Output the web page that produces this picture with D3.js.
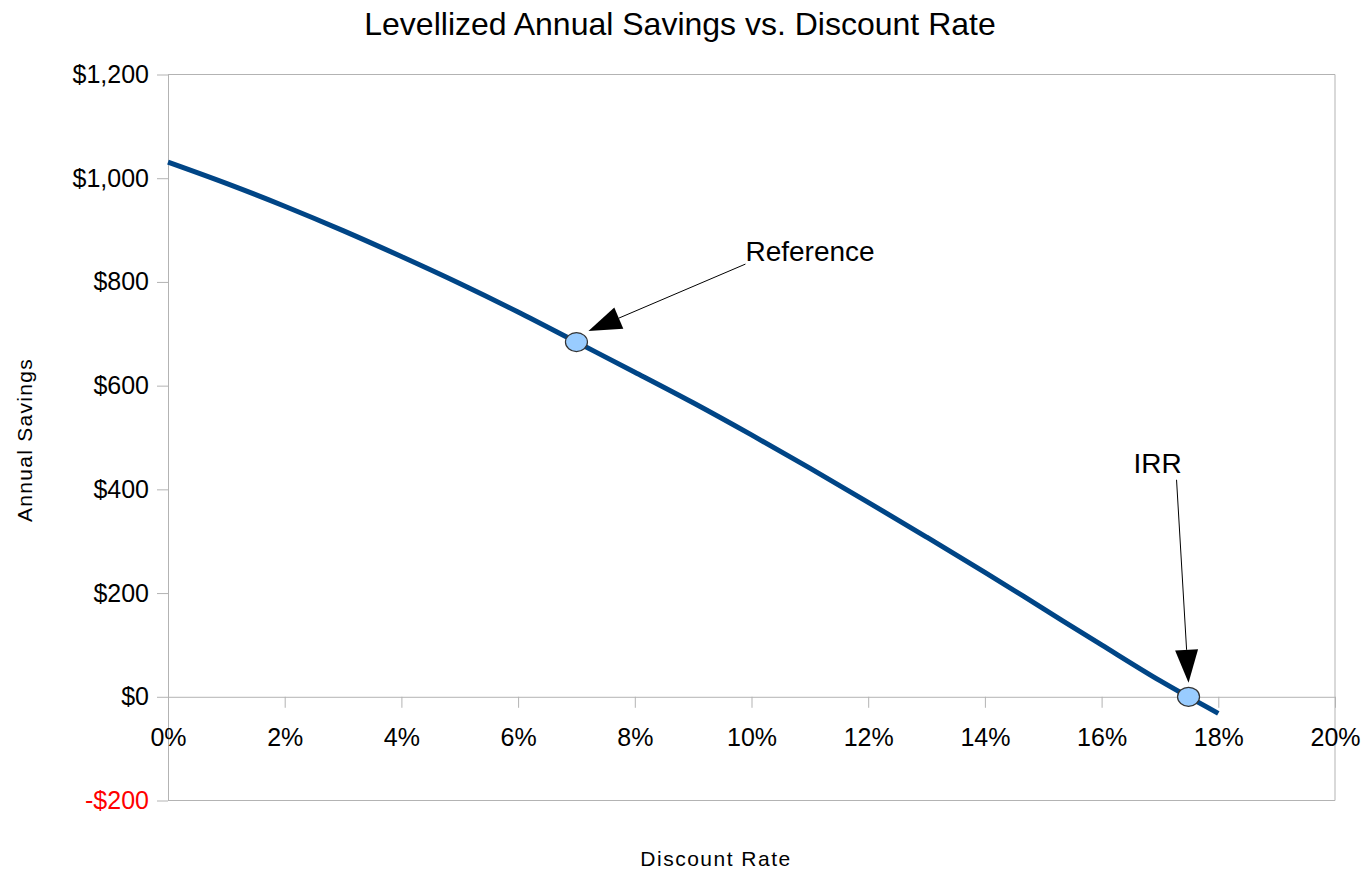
<!DOCTYPE html>
<html>
<head>
<meta charset="utf-8">
<script src="https://cdn.jsdelivr.net/npm/d3@7"></script>
<style>
  html, body { margin: 0; padding: 0; background: #fff; }
  svg { display: block; font-family: "Liberation Sans", Arial, sans-serif; }
</style>
</head>
<body>
<svg id="chart" width="1370" height="871"></svg>
<script>
// Discount rate (%) and levellized annual savings ($)
const rates   = [0, 1, 2, 3, 4, 5, 6, 7, 8, 9, 10, 11, 12, 13, 14, 15, 16, 17, 18];
const savings = [1031, 990, 946, 899, 849, 797, 742, 684, 626, 567, 505, 441, 375, 308, 240, 170, 100, 31, -32];

// Highlighted points
const markerNames  = ["Reference", "IRR"];
const markerRates  = [7, 17.49];
const markerValues = [684, 0];

// Axis ticks
const xTicks = [0, 2, 4, 6, 8, 10, 12, 14, 16, 18, 20];
const yTicks = [-200, 0, 200, 400, 600, 800, 1000, 1200];

const svg = d3.select("#chart");
const plotLeft = 168, plotRight = 1335, plotTop = 74.5, plotBottom = 800.5;

const x = d3.scaleLinear().domain([0, 20]).range([plotLeft, plotRight]);
const y = d3.scaleLinear().domain([-200, 1200]).range([plotBottom, plotTop]);

const grey = "#b3b3b3";

// Plot frame (top, right, bottom)
svg.append("path")
  .attr("d", `M${plotLeft},${plotTop}H${plotRight}V${plotBottom}H${plotLeft}`)
  .attr("fill", "none").attr("stroke", grey).attr("stroke-width", 1);

// Y axis
const yAxis = svg.append("g")
  .attr("transform", `translate(${plotLeft},0)`)
  .call(d3.axisLeft(y).tickValues(yTicks).tickSize(11).tickSizeOuter(0).tickPadding(8)
    .tickFormat(v => (v < 0 ? "-$" : "$") + d3.format(",")(Math.abs(v))));
yAxis.selectAll(".domain, line").attr("stroke", grey);
yAxis.selectAll("text")
  .attr("font-size", 25).attr("font-family", "Liberation Sans, Arial, sans-serif")
  .attr("fill", d => d < 0 ? "#ff0000" : "#000");

// X axis crossing at zero
const xAxis = svg.append("g")
  .attr("transform", `translate(0,${y(0)})`)
  .call(d3.axisBottom(x).tickValues(xTicks).tickSize(11).tickSizeOuter(0).tickPadding(20)
    .tickFormat(v => v + "%"));
xAxis.selectAll(".domain, line").attr("stroke", grey);
xAxis.selectAll("text")
  .attr("font-size", 25).attr("font-family", "Liberation Sans, Arial, sans-serif")
  .attr("fill", "#000");

// Savings curve
const data = rates.map((r, i) => ({ r, v: savings[i] }));
svg.append("path")
  .datum(data)
  .attr("fill", "none")
  .attr("stroke", "#004586")
  .attr("stroke-width", 5)
  .attr("stroke-linejoin", "round")
  .attr("d", d3.line().curve(d3.curveMonotoneX).x(d => x(d.r)).y(d => y(d.v)));

// Arrow callouts: text anchor and arrow geometry relative to the marked point
const callouts = [
  { textDx: 169, textDy: -81, anchor: "start", fromDx: 169, fromDy: -78, tipDx: 12, tipDy: -11 },
  { textDx: -31, textDy: -224, anchor: "middle", fromDx: -12, fromDy: -217, tipDx: 0, tipDy: -14 }
];

markerNames.forEach((name, i) => {
  const px = x(markerRates[i]), py = y(markerValues[i]);
  const c = callouts[i];
  const fx = px + c.fromDx, fy = py + c.fromDy;
  const tx = px + c.tipDx, ty = py + c.tipDy;
  const ang = Math.atan2(ty - fy, tx - fx);
  const len = 33, half = 11.5;
  const bx = tx - len * Math.cos(ang), by = ty - len * Math.sin(ang);
  const nx = -Math.sin(ang), ny = Math.cos(ang);

  svg.append("line")
    .attr("x1", fx).attr("y1", fy).attr("x2", bx).attr("y2", by)
    .attr("stroke", "#000").attr("stroke-width", 1);
  svg.append("path")
    .attr("d", `M${tx},${ty}L${bx + nx * half},${by + ny * half}L${bx - nx * half},${by - ny * half}Z`)
    .attr("fill", "#000");
  svg.append("text")
    .attr("x", px + c.textDx).attr("y", py + c.textDy)
    .attr("text-anchor", c.anchor)
    .attr("font-size", 28)
    .attr("fill", "#000")
    .text(name);
});

// Point markers
svg.selectAll("ellipse.pt")
  .data(markerRates.map((r, i) => ({ r, v: markerValues[i] })))
  .join("ellipse")
  .attr("class", "pt")
  .attr("cx", d => x(d.r)).attr("cy", d => y(d.v))
  .attr("rx", 11).attr("ry", 9.5)
  .attr("fill", "#99ccff").attr("stroke", "#333").attr("stroke-width", 1.2);

// Titles
svg.append("text")
  .attr("x", 680).attr("y", 35)
  .attr("text-anchor", "middle")
  .attr("font-size", 32)
  .attr("fill", "#000")
  .text("Levellized Annual Savings vs. Discount Rate");

svg.append("text")
  .attr("x", 716).attr("y", 866)
  .attr("text-anchor", "middle")
  .attr("font-size", 21)
  .attr("letter-spacing", 1.5)
  .attr("fill", "#000")
  .text("Discount Rate");

svg.append("text")
  .attr("transform", "translate(32,440) rotate(-90)")
  .attr("text-anchor", "middle")
  .attr("font-size", 21)
  .attr("letter-spacing", 1.3)
  .attr("fill", "#000")
  .text("Annual Savings");
</script>
</body>
</html>
